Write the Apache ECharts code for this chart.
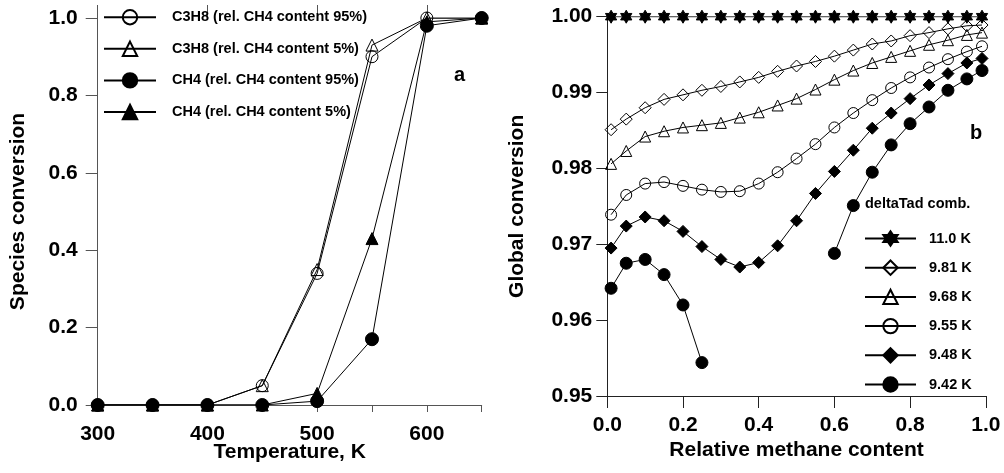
<!DOCTYPE html>
<html><head><meta charset="utf-8">
<script src="https://cdn.jsdelivr.net/npm/echarts@6/dist/echarts.min.js"></script>
<style>html,body{margin:0;padding:0;background:#fff}#c{width:1004px;height:473px}</style>
</head><body><div id="c"></div>
<script>
// ---- Panel a data ----
const tempK = [300, 350, 400, 450, 500, 550, 600, 650];
const c3h8_95 = [0, 0, 0, 0.05, 0.34, 0.90, 1.0, 1.0];
const c3h8_5  = [0, 0, 0, 0.05, 0.35, 0.93, 1.0, 1.0];
const ch4_95  = [0, 0, 0, 0, 0.01, 0.17, 0.98, 1.0];
const ch4_5   = [0, 0, 0, 0, 0.03, 0.43, 0.99, 1.0];
const tempTickLabels = [300, 400, 500, 600];
const namesA = ['C3H8 (rel. CH4 content 95%)', 'C3H8 (rel. CH4 content 5%)', 'CH4 (rel. CH4 content 95%)', 'CH4 (rel. CH4 content 5%)'];

// ---- Panel b data ----
const methane = [0.01, 0.05, 0.10, 0.15, 0.20, 0.25, 0.30, 0.35, 0.40, 0.45, 0.50, 0.55, 0.60, 0.65, 0.70, 0.75, 0.80, 0.85, 0.90, 0.95, 0.99];
const conv_110 = [1, 1, 1, 1, 1, 1, 1, 1, 1, 1, 1, 1, 1, 1, 1, 1, 1, 1, 1, 1, 1];
const conv_981 = [0.9851, 0.9865, 0.9880, 0.9891, 0.9897, 0.9903, 0.9908, 0.9914, 0.9920, 0.9928, 0.9935, 0.9941, 0.9948, 0.9956, 0.9964, 0.9968, 0.9975, 0.9979, 0.9984, 0.9988, 0.9989];
const conv_968 = [0.9806, 0.9823, 0.9842, 0.9849, 0.9854, 0.9857, 0.9860, 0.9867, 0.9874, 0.9883, 0.9892, 0.9904, 0.9917, 0.9929, 0.9939, 0.9947, 0.9955, 0.9963, 0.9969, 0.9976, 0.9979];
const conv_955 = [0.9739, 0.9765, 0.9780, 0.9782, 0.9777, 0.9772, 0.9769, 0.9770, 0.9780, 0.9795, 0.9813, 0.9832, 0.9854, 0.9873, 0.9890, 0.9906, 0.9920, 0.9933, 0.9944, 0.9954, 0.9961];
const conv_948 = [0.9695, 0.9724, 0.9736, 0.9731, 0.9717, 0.9697, 0.9680, 0.9670, 0.9676, 0.9698, 0.9731, 0.9767, 0.9796, 0.9824, 0.9853, 0.9873, 0.9892, 0.9910, 0.9925, 0.9939, 0.9945];
const conv_942 = [0.9642, 0.9675, 0.9680, 0.9660, 0.9620, 0.9544, null, null, null, null, null, null, 0.9688, 0.9751, 0.9795, 0.9831, 0.9859, 0.9881, 0.9903, 0.9918, 0.9929];
const namesB = ['11.0 K', '9.81 K', '9.68 K', '9.55 K', '9.48 K', '9.42 K'];

const FONT = '"Liberation Sans", Arial, sans-serif';
const STAR = 'path://M0,-10L2.887,-5L8.66,-5L5.774,0L8.66,5L2.887,5L0,10L-2.887,5L-8.66,5L-5.774,0L-8.66,-5L-2.887,-5Z';

function pairs(xs, ys) { return xs.map((x, i) => [x, ys[i]]); }
function mk(name, idx, xs, ys, symbol, size, filled, z) {
  return {
    name, type: 'line', xAxisIndex: idx === 0 ? 0 : 2, yAxisIndex: idx,
    data: pairs(xs, ys), symbol, symbolSize: size, symbolKeepAspect: true,
    showSymbol: true, connectNulls: false, animation: false, z,
    lineStyle: { color: '#000', width: 1 },
    itemStyle: { color: filled ? '#000' : 'rgba(255,255,255,0)', borderColor: '#000', borderWidth: 1 },
    emphasis: { disabled: true }
  };
}

const lblStyle = { color: '#000', fontFamily: FONT, fontWeight: 'bold', fontSize: 21 };
const nameStyle = { color: '#000', fontFamily: FONT, fontWeight: 'bold', fontSize: 21 };

const chart = echarts.init(document.getElementById('c'), null, { renderer: 'canvas' });
chart.setOption({
  animation: false,
  backgroundColor: '#fff',
  grid: [
    { left: 97.7, right: 522.3, top: 18, bottom: 68, outerBoundsMode: 'none', containLabel: false },
    { left: 607.3, right: 18.2, top: 16.7, bottom: 77, outerBoundsMode: 'none', containLabel: false }
  ],
  xAxis: [
    {
      gridIndex: 0, type: 'value', min: 300, max: 650, interval: 50,
      axisLine: { show: true, onZero: false, lineStyle: { color: '#555', width: 1 } },
      axisTick: { show: true, inside: false, length: 7, lineStyle: { color: '#555' } },
      axisLabel: { ...lblStyle, margin: 19, formatter: v => (v % 100 === 0 && v < 650) ? String(v) : '' },
      splitLine: { show: false },
      name: 'Temperature, K', nameLocation: 'middle', nameGap: 37, nameTextStyle: nameStyle, nameMoveOverlap: false
    },
    {
      gridIndex: 0, type: 'value', min: 300, max: 650, interval: 100,
      axisLine: { show: false, onZero: false },
      axisTick: { show: true, inside: false, length: 13, customValues: tempTickLabels, lineStyle: { color: '#555' } },
      axisLabel: { show: false },
      splitLine: { show: false }
    },
    {
      gridIndex: 1, type: 'value', min: 0, max: 1, interval: 0.2,
      axisLine: { show: true, onZero: false, lineStyle: { color: '#222', width: 1 } },
      axisTick: { show: true, inside: false, length: 12, lineStyle: { color: '#222' } },
      axisLabel: { ...lblStyle, margin: 19, formatter: v => v.toFixed(1) },
      splitLine: { show: false },
      name: 'Relative methane content', nameLocation: 'middle', nameGap: 44, nameTextStyle: nameStyle, nameMoveOverlap: false
    }
  ],
  yAxis: [
    {
      gridIndex: 0, type: 'value', min: 0, max: 1, interval: 0.2,
      axisLine: { show: true, onZero: false, lineStyle: { color: '#555', width: 1 } },
      axisTick: { show: true, inside: false, length: 12, lineStyle: { color: '#555' } },
      axisLabel: { ...lblStyle, margin: 20, formatter: v => v.toFixed(1) },
      splitLine: { show: false },
      name: 'Species conversion', nameLocation: 'middle', nameGap: 69, nameRotate: 90, nameTextStyle: nameStyle, nameMoveOverlap: false
    },
    {
      gridIndex: 1, type: 'value', min: 0.95, max: 1.0, interval: 0.01,
      axisLine: { show: true, onZero: false, lineStyle: { color: '#222', width: 1 } },
      axisTick: { show: true, inside: false, length: 11, lineStyle: { color: '#222' } },
      axisLabel: { ...lblStyle, margin: 15, formatter: v => v.toFixed(2) },
      splitLine: { show: false },
      name: 'Global conversion', nameLocation: 'middle', nameGap: 80, nameRotate: 90, nameTextStyle: nameStyle, nameMoveOverlap: false
    }
  ],
  legend: [
    {
      data: namesA, orient: 'vertical', left: 103, top: 9, padding: 0,
      itemWidth: 52, itemHeight: 18, itemGap: 15.2, selectedMode: false,
      textStyle: { color: '#000', fontFamily: FONT, fontWeight: 'bold', fontSize: 14.5, padding: [0, 0, 0, 11] }
    },
    {
      data: namesB, orient: 'vertical', left: 864, top: 230.3, padding: 0,
      itemWidth: 51, itemHeight: 18, itemGap: 12.8, selectedMode: false,
      textStyle: { color: '#000', fontFamily: FONT, fontWeight: 'bold', fontSize: 14.5, padding: [0, 0, 0, 8] }
    }
  ],
  graphic: [
    { type: 'text', left: 454, top: 65, style: { text: 'a', fill: '#000', font: 'bold 20px ' + FONT } },
    { type: 'text', left: 970, top: 123, style: { text: 'b', fill: '#000', font: 'bold 20px ' + FONT } },
    { type: 'text', left: 865, top: 196, style: { text: 'deltaTad comb.', fill: '#000', font: 'bold 14.5px ' + FONT } }
  ],
  series: [
    mk(namesA[0], 0, tempK, c3h8_95, 'circle', 12, false, 2),
    mk(namesA[1], 0, tempK, c3h8_5, 'triangle', 12, false, 2),
    mk(namesA[3], 0, tempK, ch4_5, 'triangle', 12, true, 3),
    mk(namesA[2], 0, tempK, ch4_95, 'circle', 13, true, 4),
    mk(namesB[0], 1, methane, conv_110, STAR, 13, true, 2),
    mk(namesB[1], 1, methane, conv_981, 'diamond', 12, false, 2),
    mk(namesB[2], 1, methane, conv_968, 'triangle', 11, false, 2),
    mk(namesB[3], 1, methane, conv_955, 'circle', 11, false, 2),
    mk(namesB[4], 1, methane, conv_948, 'diamond', 12, true, 3),
    mk(namesB[5], 1, methane, conv_942, 'circle', 12, true, 3)
  ]
});
</script>
</body></html>
